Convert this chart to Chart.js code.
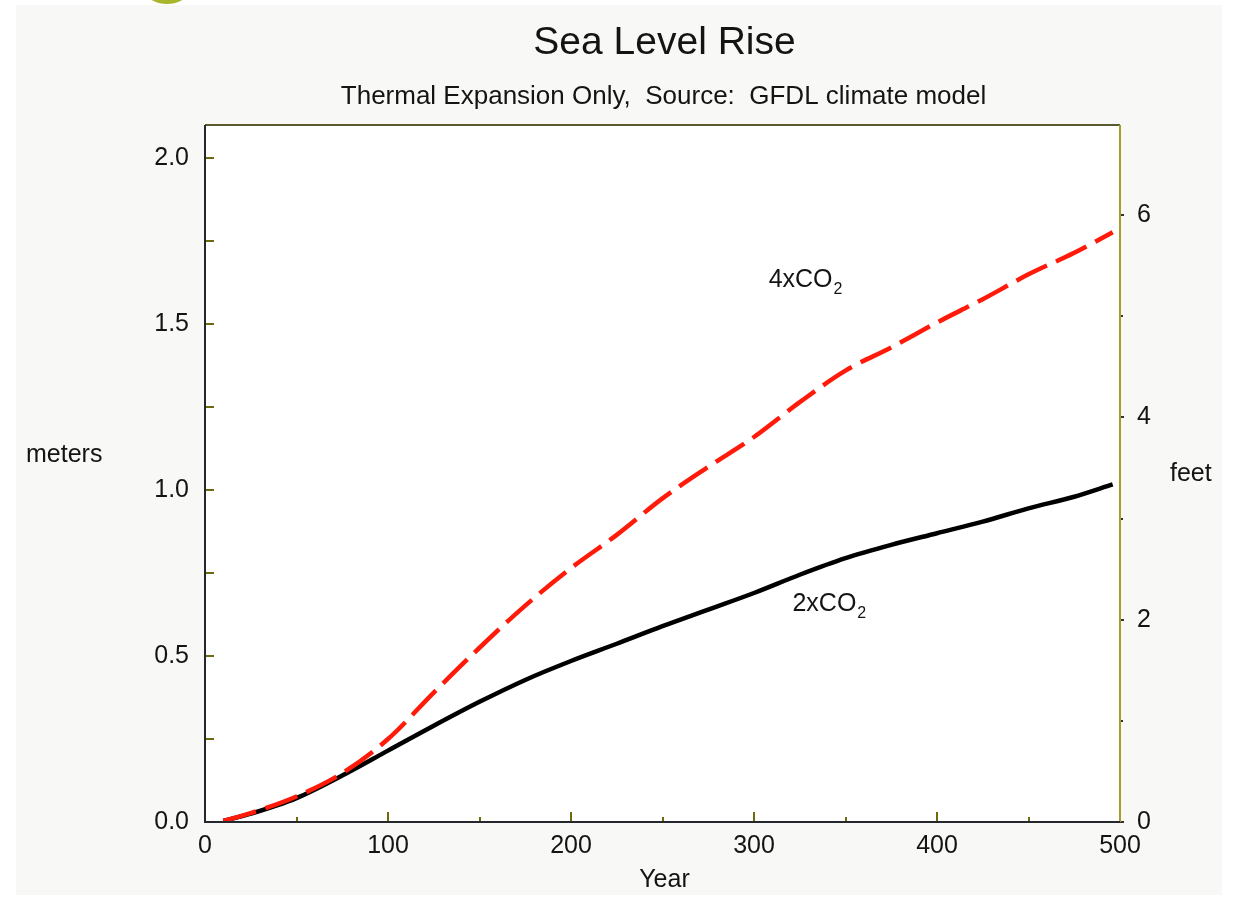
<!DOCTYPE html>
<html><head><meta charset="utf-8">
<script src="https://cdn.jsdelivr.net/npm/chart.js@4/dist/chart.umd.min.js"></script>
<style>html,body{margin:0;padding:0;background:#fff;} #wrap{width:1233px;height:898px;position:relative;}</style>
</head><body><div id="wrap"><canvas id="c" width="1233" height="898"></canvas></div>
<script>
// ---- data ----
const years   = [10, 25, 50, 75, 100, 125, 150, 175, 200, 225, 250, 275, 300, 325, 350, 375, 400, 425, 450, 475, 496];
const rise2x  = [0.003, 0.025, 0.072, 0.14, 0.215, 0.29, 0.362, 0.428, 0.485, 0.537, 0.59, 0.64, 0.69, 0.745, 0.795, 0.835, 0.87, 0.905, 0.945, 0.98, 1.017];
const rise4x  = [0.003, 0.027, 0.077, 0.147, 0.25, 0.39, 0.525, 0.652, 0.765, 0.865, 0.975, 1.07, 1.16, 1.265, 1.36, 1.43, 1.505, 1.575, 1.65, 1.715, 1.777];
const xMajorTicks = [0, 100, 200, 300, 400, 500];
const xMinorTicks = [50, 150, 250, 350, 450];
const mMajorTicks = [0, 0.5, 1.0, 1.5, 2.0];
const mMinorTicks = [0.25, 0.75, 1.25, 1.75];
const ftMajorTicks = [0, 2, 4, 6];
const ftMinorTicks = [1, 3, 5];
const M_PER_FT = 0.3048;
const Y_MAX = 2.1;

const seriesLabels = {four: {main: '4xCO', sub: '2', year: 308, m: 1.611},
                      two:  {main: '2xCO', sub: '2', year: 321, m: 0.637}};

const FONT = "'Liberation Sans', Arial, Helvetica, sans-serif";
const TXT = '#141414';

const pts = (ys) => years.map((x, i) => ({x: x, y: ys[i]}));

const deco = {
  id: 'deco',
  beforeDraw(chart) {
    const c = chart.ctx, a = chart.chartArea;
    c.save();
    c.fillStyle = '#ffffff'; c.fillRect(0, 0, chart.width, chart.height);
    c.fillStyle = '#f8f8f6'; c.fillRect(16, 5, 1206, 890);
    c.fillStyle = '#a9b52a';
    c.beginPath(); c.ellipse(167, -6, 19, 10, 0, 0, Math.PI * 2); c.fill();
    c.fillStyle = '#ffffff'; c.fillRect(a.left, a.top, a.right - a.left, a.bottom - a.top);
    c.restore();
  },
  afterDraw(chart) {
    const c = chart.ctx, a = chart.chartArea;
    const sx = chart.scales.x, sy = chart.scales.y, sf = chart.scales.y1;
    c.save();
    // ticks
    c.lineWidth = 2;
    c.strokeStyle = '#6e6a10';
    const tickX = (v, len) => { const p = Math.round(sx.getPixelForValue(v)); c.beginPath(); c.moveTo(p, a.bottom); c.lineTo(p, a.bottom - len); c.stroke(); };
    xMajorTicks.forEach(v => tickX(v, 10));
    xMinorTicks.forEach(v => tickX(v, 5));
    const tickY = (v, len) => { const p = Math.round(sy.getPixelForValue(v)); c.beginPath(); c.moveTo(a.left, p); c.lineTo(a.left + len, p); c.stroke(); };
    mMajorTicks.forEach(v => tickY(v, 9));
    mMinorTicks.forEach(v => tickY(v, 9));
    c.strokeStyle = '#333';
    const tickF = (v, len) => { const p = Math.round(sf.getPixelForValue(v)); c.beginPath(); c.moveTo(a.right, p); c.lineTo(a.right + len, p); c.stroke(); };
    ftMajorTicks.forEach(v => tickF(v, 4));
    ftMinorTicks.forEach(v => tickF(v, 3));
    // frame
    c.lineWidth = 2;
    c.strokeStyle = '#5a5a30';
    c.beginPath(); c.moveTo(a.left, a.top); c.lineTo(a.right, a.top); c.stroke();
    c.strokeStyle = '#a89c2c';
    c.beginPath(); c.moveTo(a.right, a.top); c.lineTo(a.right, a.bottom); c.stroke();
    c.strokeStyle = '#26262e';
    c.beginPath(); c.moveTo(a.left, a.top); c.lineTo(a.left, a.bottom); c.lineTo(a.right, a.bottom); c.stroke();

    // titles
    const cx = (a.left + a.right) / 2;
    c.fillStyle = TXT;
    c.textAlign = 'center'; c.textBaseline = 'alphabetic';
    c.font = '39px ' + FONT; c.fillText('Sea Level Rise', cx + 2, 54);
    c.font = '26px ' + FONT; c.fillText('Thermal Expansion Only,  Source:  GFDL climate model', cx + 1, 104);
    c.font = '25px ' + FONT; c.fillText('Year', cx + 2, 887);
    c.textAlign = 'left';
    c.fillText('meters', 26, 462);
    c.fillText('feet', 1170, 481);
    // series labels with subscript
    const drawLab = (L) => {
      const x = sx.getPixelForValue(L.year), y = sy.getPixelForValue(L.m);
      c.font = '25px ' + FONT; c.textAlign = 'left';
      c.fillText(L.main, x, y);
      const w = c.measureText(L.main).width;
      c.font = '16px ' + FONT;
      c.fillText(L.sub, x + w + 1, y + 7);
    };
    drawLab(seriesLabels.four);
    drawLab(seriesLabels.two);
    c.restore();
  }
};

new Chart(document.getElementById('c'), {
  type: 'line',
  data: {
    datasets: [
      {label: '4xCO2', data: pts(rise4x), borderColor: '#ff1a0a', borderWidth: 4.5, borderDash: [34, 10], pointRadius: 0, yAxisID: 'y', cubicInterpolationMode: 'monotone', borderCapStyle: 'butt'},
      {label: '2xCO2', data: pts(rise2x), borderColor: '#000000', borderWidth: 4.5, pointRadius: 0, yAxisID: 'y', cubicInterpolationMode: 'monotone'}
    ]
  },
  options: {
    responsive: false, animation: false, devicePixelRatio: 1,
    layout: {padding: {top: 125, left: 0, right: 0, bottom: 0}},
    plugins: {legend: {display: false}, tooltip: {enabled: false}, title: {display: false}},
    scales: {
      x: {type: 'linear', position: 'bottom', min: 0, max: 500,
          grid: {display: false, drawTicks: false}, border: {display: false},
          ticks: {stepSize: 100, font: {family: FONT, size: 25}, color: TXT, padding: 9, maxRotation: 0, autoSkip: false},
          afterFit(s) { s.height = 76; }},
      y: {type: 'linear', position: 'left', min: 0, max: Y_MAX,
          grid: {display: false, drawTicks: false}, border: {display: false},
          ticks: {stepSize: 0.5, includeBounds: false, font: {family: FONT, size: 25}, color: TXT, padding: 16, callback: v => v.toFixed(1)},
          afterFit(s) { s.width = 205; }},
      y1: {type: 'linear', position: 'right', min: 0, max: Y_MAX / M_PER_FT,
          grid: {display: false, drawTicks: false}, border: {display: false},
          ticks: {stepSize: 2, includeBounds: false, font: {family: FONT, size: 25}, color: TXT, padding: 17, callback: v => String(v)},
          afterFit(s) { s.width = 113; }}
    }
  },
  plugins: [deco]
});
</script>
</body></html>
